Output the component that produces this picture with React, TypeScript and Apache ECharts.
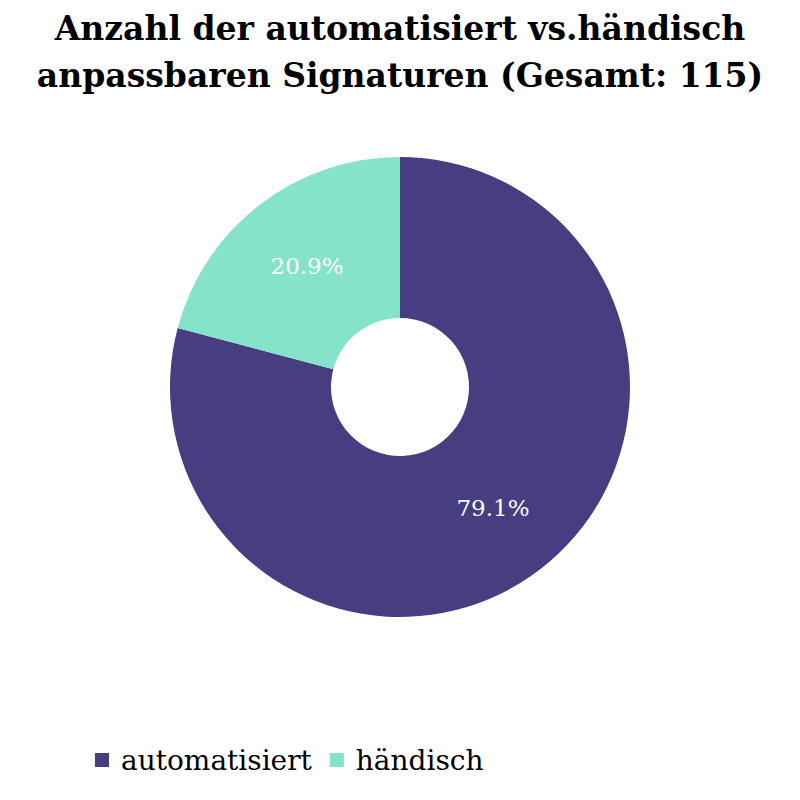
import React, { useEffect, useRef } from "react";
import * as echarts from "echarts";

const titleLines = ["Anzahl der automatisiert vs.händisch", "anpassbaren Signaturen (Gesamt: 115)"];
const categories = ["automatisiert", "händisch"];
const counts = [91, 24];
const colors = ["#463e80", "#84e3c8"];

export default function App() {
  const ref = useRef<HTMLDivElement>(null);
  useEffect(() => {
    const chart = echarts.init(ref.current!, null, { renderer: "svg" });
    const total = counts.reduce((a, b) => a + b, 0);
    chart.setOption({
      animation: false,
      backgroundColor: "#ffffff",
      title: {
        text: titleLines.join("\n"),
        left: "center",
        top: 0,
        textStyle: {
          fontFamily: "DejaVu Serif",
          fontWeight: "bold",
          fontSize: 33,
          lineHeight: 47,
          color: "#000000",
        },
      },
      legend: {
        left: 90,
        top: 741,
        itemWidth: 14,
        itemHeight: 14,
        itemGap: 18,
        icon: "rect",
        textStyle: { fontFamily: "DejaVu Serif", fontSize: 28, color: "#000000", padding: [0, 0, 0, 7] },
        data: categories,
      },
      series: [
        {
          type: "pie",
          center: [400, 387],
          radius: [69, 230],
          startAngle: 90,
          clockwise: true,
          color: colors,
          label: {
            show: true,
            position: "inside",
            color: "#ffffff",
            fontFamily: "DejaVu Serif",
            fontSize: 23,
            formatter: (p: any) => ((p.value / total) * 100).toFixed(1) + "%",
          },
          labelLine: { show: false },
          emphasis: { disabled: true },
          data: categories.map((c, i) => ({ name: c, value: counts[i] })),
        },
      ],
    });
    return () => chart.dispose();
  }, []);
  return <div ref={ref} style={{ position: "fixed", left: 0, top: 0, width: 800, height: 800 }} />;
}
